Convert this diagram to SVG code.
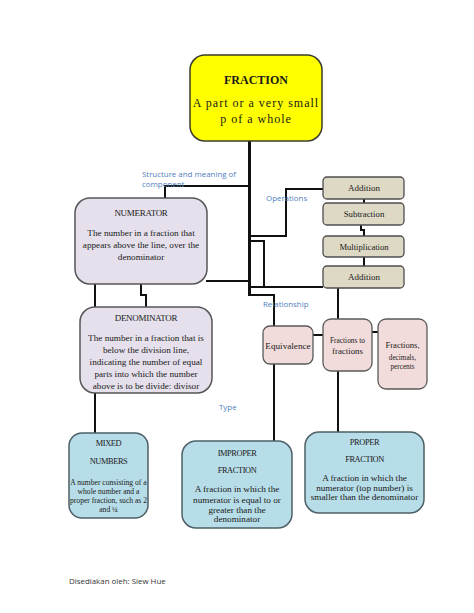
<svg xmlns="http://www.w3.org/2000/svg" width="474" height="613" viewBox="0 0 474 613">
<style>
.t{font-family:"Liberation Serif","Times New Roman",serif;fill:#1a1a1a;text-anchor:middle}
.lbl{font-family:"Open Sans","Liberation Sans",sans-serif;fill:#4f81bd;font-size:7.9px}
.ln{fill:none;stroke:#111;stroke-width:2}
.main{fill:#ffff00;stroke:#3c3c2c;stroke-width:1.5}
.comp{fill:#e5e0ec;stroke:#555;stroke-width:1.5}
.op{fill:#ddd9c4;stroke:#4d4d4d;stroke-width:1.3}
.rel{fill:#f2dcdb;stroke:#5a5a5a;stroke-width:1.3}
.typ{fill:#b7dde8;stroke:#4d6066;stroke-width:1.5}
.hd{font-size:9px;letter-spacing:-0.3px}
.bd{font-size:9.2px}
</style>
<rect width="474" height="613" fill="#fff"/>
<g id="connectors">
<line x1="249.5" y1="141" x2="249.5" y2="296" stroke="#111" stroke-width="3"/>
<path class="ln" d="M249,295 H274 V326"/>
<path class="ln" d="M249,186 H165 V198"/>
<path class="ln" d="M249,236 H286 V189 H323"/>
<path class="ln" d="M249,241 H264 V287"/>
<path class="ln" d="M250,287 H323"/>
<path class="ln" d="M206,281 H249"/>
<path class="ln" d="M95,284 V307"/>
<path class="ln" d="M141,284 V295 H146 V307"/>
<path class="ln" d="M95,393 V433"/>
<path class="ln" d="M364,199 V203"/>
<path class="ln" d="M361,225 V230 H364 V236"/>
<path class="ln" d="M364,257 V266"/>
<path class="ln" d="M338,288 V319"/>
<path class="ln" d="M313,335 H323"/>
<path class="ln" d="M372,332 H378"/>
<path class="ln" d="M274,364 V441"/>
<path class="ln" d="M338,371 V432"/>
</g>
<g id="fraction">
<rect class="main" x="190" y="55" width="132" height="86" rx="15"/>
<text class="t" x="256" y="84" font-size="12" font-weight="bold">FRACTION</text>
<text class="t" x="256" y="107" font-size="12" letter-spacing="1">A part or a very small</text>
<text class="t" x="256" y="123" font-size="12" letter-spacing="1">p of a whole</text>
</g>
<g id="numerator">
<rect class="comp" x="75" y="198" width="132" height="86" rx="15"/>
<text class="t hd" x="141" y="216">NUMERATOR</text>
<text class="t bd" x="141" y="236">The number in a fraction that</text>
<text class="t bd" x="141" y="248">appears above the line, over the</text>
<text class="t bd" x="141" y="260">denominator</text>
</g>
<g id="denominator">
<rect class="comp" x="80" y="307" width="132" height="86" rx="15"/>
<text class="t hd" x="146" y="321">DENOMINATOR</text>
<text class="t bd" x="146" y="341">The number in a fraction that is</text>
<text class="t bd" x="146" y="353">below the division line,</text>
<text class="t bd" x="146" y="365">indicating the number of equal</text>
<text class="t bd" x="146" y="377">parts into which the number</text>
<text class="t bd" x="146" y="389">above is to be divide: divisor</text>
</g>
<g id="addition">
<rect class="op" x="323" y="177" width="81" height="22" rx="4"/>
<text class="t" x="364" y="191" font-size="9">Addition</text>
</g>
<g id="subtraction">
<rect class="op" x="323" y="203" width="81" height="22" rx="4"/>
<text class="t" x="364" y="217" font-size="8.8">Subtraction</text>
</g>
<g id="multiplication">
<rect class="op" x="323" y="236" width="81" height="21" rx="4"/>
<text class="t" x="364" y="250" font-size="8.6">Multiplication</text>
</g>
<g id="addition2">
<rect class="op" x="323" y="266" width="81" height="22" rx="4"/>
<text class="t" x="364" y="280" font-size="9">Addition</text>
</g>
<g id="equivalence">
<rect class="rel" x="263" y="326" width="50" height="38" rx="7"/>
<text class="t" x="288" y="349" font-size="9.2">Equivalence</text>
</g>
<g id="fractions-to-fractions">
<rect class="rel" x="323" y="319" width="49" height="52" rx="8"/>
<text class="t" x="347.5" y="342.5" font-size="7.4">Fractions to</text>
<text class="t" x="347.5" y="354" font-size="8.8">fractions</text>
</g>
<g id="fractions-decimals-percents">
<rect class="rel" x="378" y="319" width="49" height="70" rx="8"/>
<text class="t" x="402.5" y="348" font-size="8.6">Fractions,</text>
<text class="t" x="402.5" y="359.5" font-size="7.2">decimals,</text>
<text class="t" x="402.5" y="369" font-size="7.2">percents</text>
</g>
<g id="mixed">
<rect class="typ" x="69" y="433" width="79" height="85" rx="13"/>
<text class="t" x="108.5" y="446" font-size="8.4" letter-spacing="-0.4">MIXED</text>
<text class="t" x="108.5" y="464" font-size="8.4" letter-spacing="-0.4">NUMBERS</text>
<text class="t" x="108.5" y="485" font-size="7.6">A number consisting of a</text>
<text class="t" x="108.5" y="494" font-size="7.6">whole number and a</text>
<text class="t" x="108.5" y="503" font-size="7.6">proper fraction, such as 2</text>
<text class="t" x="108.5" y="512" font-size="7.6">and ¼</text>
</g>
<g id="improper">
<rect class="typ" x="182" y="441" width="110" height="87" rx="14"/>
<text class="t" x="237" y="456" font-size="8.4" letter-spacing="-0.4">IMPROPER</text>
<text class="t" x="237" y="473" font-size="8.4" letter-spacing="-0.4">FRACTION</text>
<text class="t bd" x="237" y="492">A fraction in which the</text>
<text class="t bd" x="237" y="503">numerator is equal to or</text>
<text class="t bd" x="237" y="513">greater than the</text>
<text class="t bd" x="237" y="522">denominator</text>
</g>
<g id="proper">
<rect class="typ" x="305" y="432" width="119" height="81" rx="14"/>
<text class="t" x="364.5" y="445" font-size="8.4" letter-spacing="-0.4">PROPER</text>
<text class="t" x="364.5" y="462" font-size="8.4" letter-spacing="-0.4">FRACTION</text>
<text class="t bd" x="364.5" y="481">A fraction in which the</text>
<text class="t bd" x="364.5" y="491">numerator (top number) is</text>
<text class="t bd" x="364.5" y="500">smaller than the denominator</text>
</g>
<g id="labels">
<text class="lbl" x="142" y="177">Structure and meaning of</text>
<text class="lbl" x="142" y="187">component</text>
<text class="lbl" x="266" y="201">Operations</text>
<text class="lbl" x="263" y="307">Relationship</text>
<text class="lbl" x="219" y="410">Type</text>
<text x="69" y="584" font-family="'Open Sans','Liberation Sans',sans-serif" font-size="7.9" fill="#333">Disediakan oleh: Siew Hue</text>
</g>
</svg>
